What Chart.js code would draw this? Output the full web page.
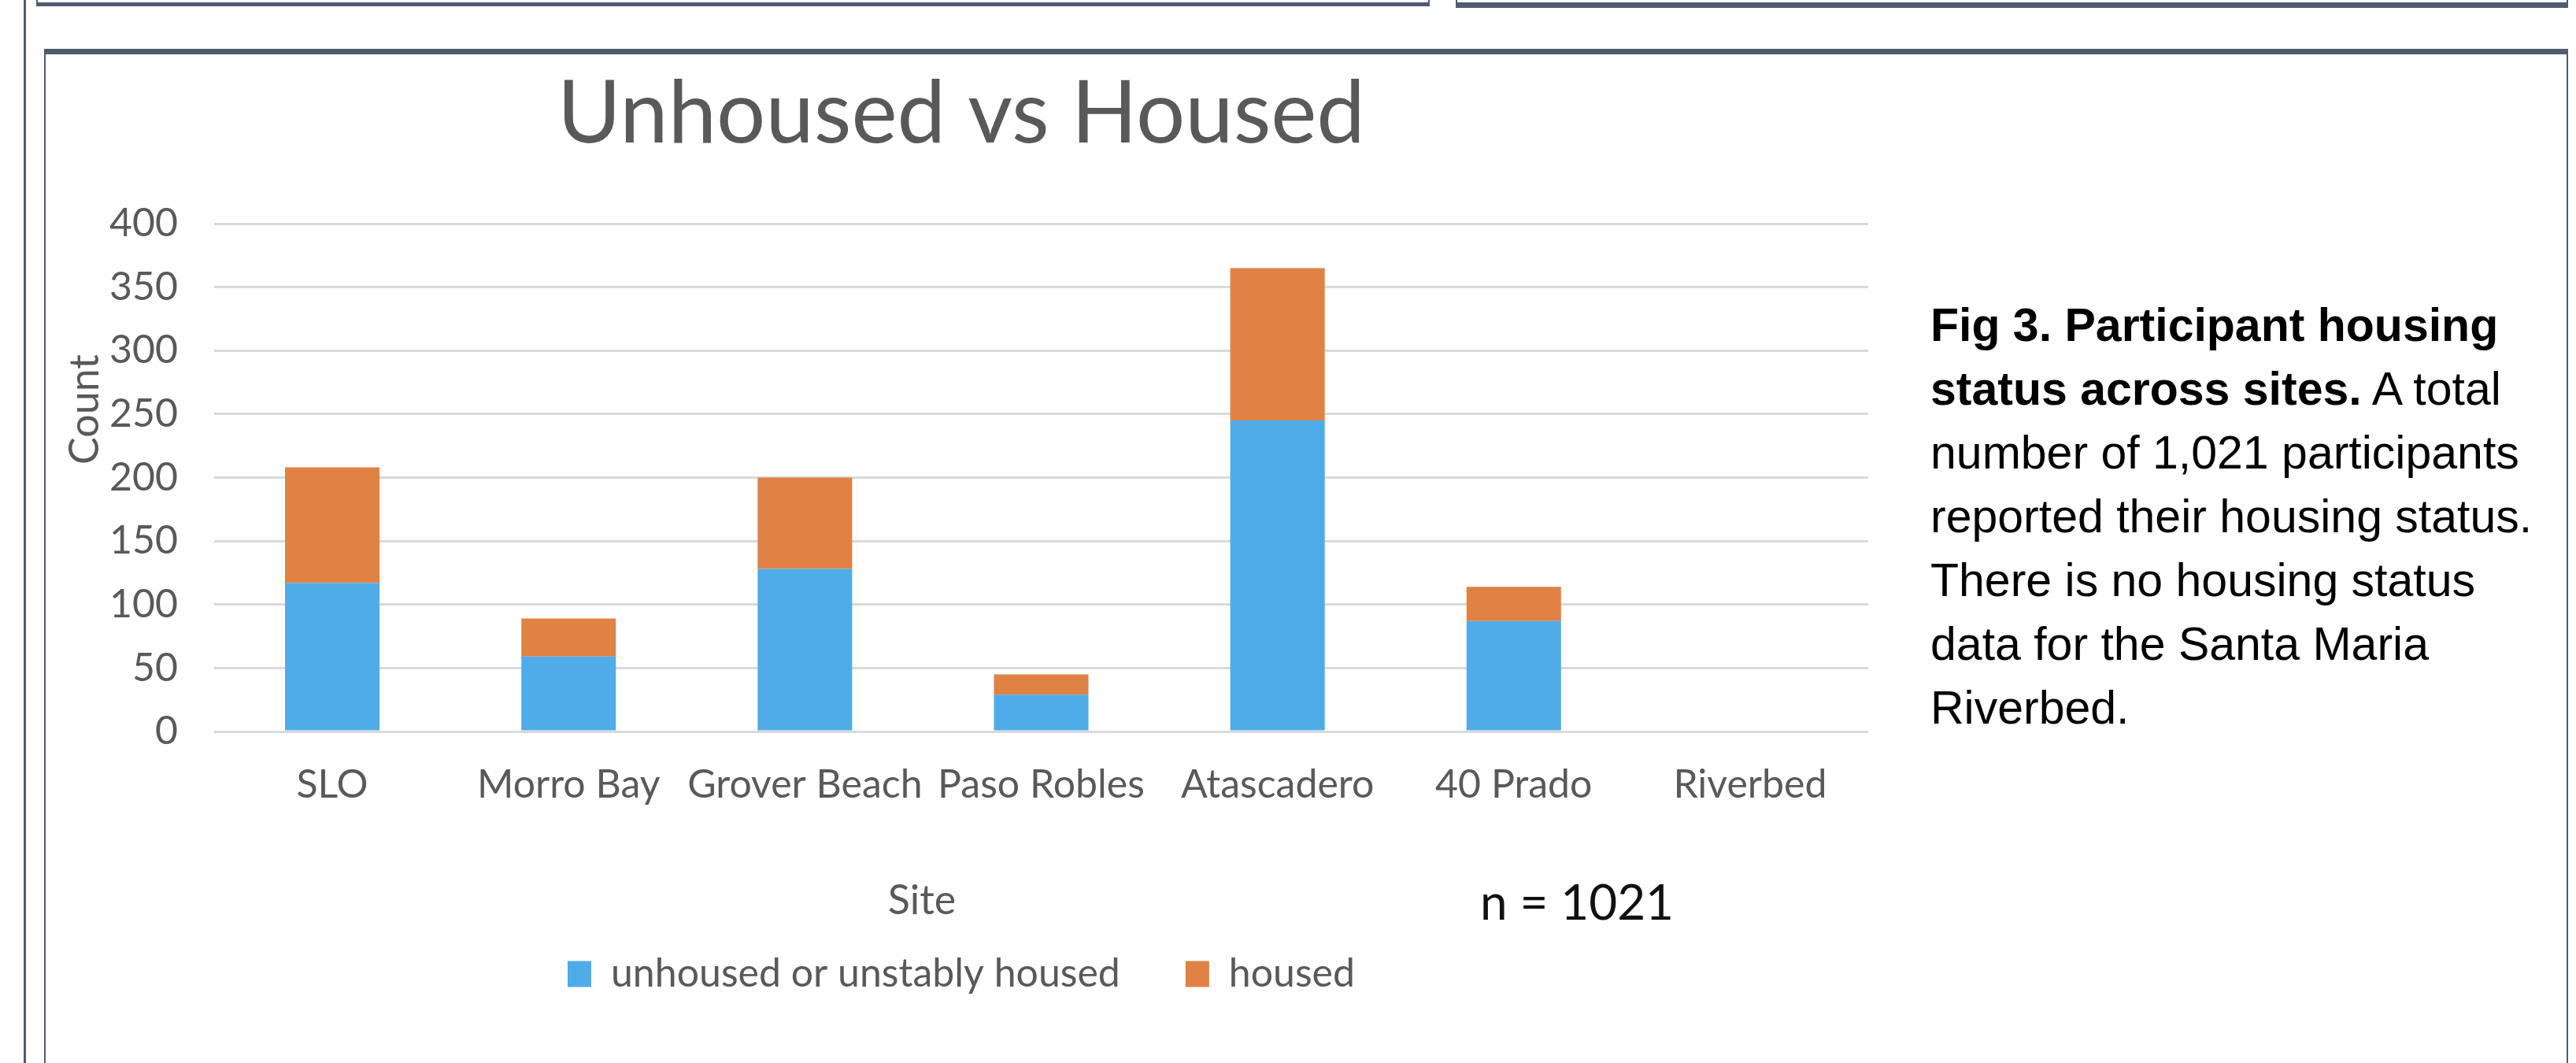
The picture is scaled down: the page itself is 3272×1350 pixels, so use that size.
<!DOCTYPE html>
<html>
<head>
<meta charset="utf-8">
<script src="https://cdn.jsdelivr.net/npm/chart.js@4.4.0/dist/chart.umd.min.js"></script>
<style>
  html, body { margin: 0; padding: 0; background: #fff; }
  body { width: 3272px; height: 1350px; position: relative; overflow: hidden; }
  .frame { position: absolute; box-sizing: border-box; border: 2px solid #4f5b70; }
  #wrap { position: absolute; left: 0; top: 0; width: 2442px; height: 1272px; }
  #caption {
    position: absolute; left: 2452px; top: 373px; width: 800px;
    font-family: "Liberation Sans", Arial, sans-serif; font-size: 59px; line-height: 81px; color: #000;
  }
</style>
</head>
<body>
<div style="position:absolute;left:30px;top:0;width:3px;height:1350px;background:#4f5b70"></div>
<div class="frame" style="left:46px;top:-100px;width:1770px;height:108px;border-bottom-width:5px"></div>
<div class="frame" style="left:1849px;top:-100px;width:1413px;height:110px;border-bottom-width:7px"></div>
<div class="frame" style="left:56px;top:62px;width:3206px;height:1400px;border-top-width:7px"></div>

<div id="wrap"><canvas id="myChart"></canvas></div>

<div id="caption"><b>Fig 3. Participant housing status across sites.</b> A total number of 1,021 participants reported their housing status. There is no housing status data for the Santa Maria Riverbed.</div>

<script>
var sites = ["SLO", "Morro Bay", "Grover Beach", "Paso Robles", "Atascadero", "40 Prado", "Riverbed"];
var unhoused = [117, 59, 128, 29, 245, 87, 0];
var housed = [91, 30, 72, 16, 120, 27, 0];
var yTicks = [0, 50, 100, 150, 200, 250, 300, 350, 400];

var grey = "#595959";
var font = "Lato, 'Open Sans', sans-serif";

// axis titles and the n label sit off-centre in the original
var extraText = {
  id: "extraText",
  afterDraw: function(chart) {
    var ctx = chart.ctx;
    ctx.save();
    ctx.textAlign = "center";
    ctx.textBaseline = "middle";
    ctx.fillStyle = grey;
    ctx.font = "52px " + font;
    ctx.fillText("Site", 1171, 1144);
    ctx.fillStyle = "#111";
    ctx.font = "62px " + font;
    ctx.fillText("n = 1021", 2003, 1148);
    ctx.translate(108, 520);
    ctx.rotate(-Math.PI / 2);
    ctx.fillStyle = grey;
    ctx.font = "52px " + font;
    ctx.fillText("Count", 0, 0);
    ctx.restore();
  }
};

var chartData = {
  labels: sites,
  datasets: [
    {
      label: "unhoused or unstably housed",
      backgroundColor: "#4FACE8",
      data: unhoused,
      barPercentage: 0.4,
      categoryPercentage: 1
    },
    {
      label: "housed",
      backgroundColor: "#DF8244",
      data: housed,
      barPercentage: 0.4,
      categoryPercentage: 1
    }
  ]
};

const config = {
  type: "bar",
  data: chartData,
  plugins: [extraText],
  options: {
    responsive: true,
    maintainAspectRatio: false,
    animation: false,
    layout: { padding: 0 },
    plugins: {
      title: {
        display: true,
        text: "Unhoused vs Housed",
        color: grey,
        font: { family: font, size: 110, weight: "normal" },
        padding: { top: 80, bottom: 72 }
      },
      legend: {
        position: "bottom",
        labels: {
          color: grey,
          font: { family: font, size: 50 },
          boxWidth: 30,
          boxHeight: 33,
          padding: 83
        }
      },
      tooltip: { enabled: false }
    },
    scales: {
      x: {
        stacked: true,
        grid: { display: false, drawTicks: false },
        border: { display: false },
        ticks: { color: grey, font: { family: font, size: 50 }, padding: 38, maxRotation: 0, autoSkip: false },
        afterFit: function(s) { s.height = 200; }
      },
      y: {
        stacked: true,
        min: 0,
        max: 400,
        afterBuildTicks: function(s) { s.ticks = yTicks.map(function(v) { return { value: v }; }); },
        grid: { color: "#d9d9d9", lineWidth: 3, drawTicks: false },
        border: { display: false },
        ticks: { color: grey, font: { family: font, size: 50 }, padding: 46 },
        afterFit: function(s) { s.width = 272; }
      },
      pad: {
        position: "right",
        display: true,
        grid: { display: false, drawTicks: false },
        border: { display: false },
        ticks: { display: false },
        afterFit: function(s) { s.width = 69; }
      }
    }
  }
};
const myChart = new Chart(document.getElementById("myChart"), config);
</script>
</body>
</html>
